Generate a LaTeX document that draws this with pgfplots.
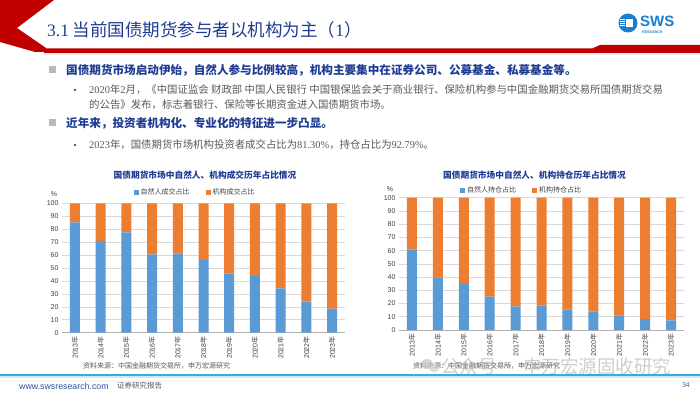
\documentclass[border=0pt]{standalone}
\usepackage{fontspec}
\setmainfont{Noto Sans CJK SC}
\newfontfamily\ser{Liberation Serif}
\newfontfamily\ars{Liberation Sans}
\usepackage{pgfplots}
\pgfplotsset{compat=1.18}
\definecolor{sblue}{HTML}{5B9BD5}
\definecolor{sorange}{HTML}{ED7D31}
\definecolor{tblue}{HTML}{1F3C94}
\definecolor{hred}{HTML}{C00000}
\definecolor{lblue}{HTML}{3DA9E3}
\definecolor{tgray}{HTML}{595959}
\definecolor{logoblue}{HTML}{1A7FD0}
\definecolor{wwwblue}{HTML}{2F5597}
\definecolor{pgblue}{HTML}{4A6A9A}

\pgfplotsset{slidebar/.style={
  scale only axis, ybar stacked, bar width=10pt,
  ymin=0, ymax=100, xmin=-0.5, xmax=10.5,
  ytick={0,10,...,100}, xtick={0,...,10},
  xticklabels={{\ars 2013}年,{\ars 2014}年,{\ars 2015}年,{\ars 2016}年,{\ars 2017}年,{\ars 2018}年,{\ars 2019}年,{\ars 2020}年,{\ars 2021}年,{\ars 2022}年,{\ars 2023}年},
  x tick label style={rotate=90, anchor=east, font=\fontsize{7}{8}\selectfont, text=black!75},
  y tick label style={font=\ars\fontsize{7}{8}\selectfont, text=black!75},
  /pgf/number format/assume math mode=true,
  ymajorgrids, grid style={draw=gray!30, line width=0.6pt},
  axis x line*=bottom, axis y line*=left,
  y axis line style={draw=none},
  x axis line style={-, draw=gray!60, line width=0.6pt},
  major tick length=0pt,
  legend columns=2,
  legend style={draw=none, fill=none, font=\fontsize{7}{8}\selectfont, text=black!75, anchor=center,
    /tikz/every even column/.append style={column sep=14pt}},
  legend image code/.code={\fill[#1] (0pt,-2.5pt) rectangle (5pt,2.5pt);},
}}

\begin{document}
\begin{tikzpicture}[x=1pt,y=1pt]
\useasboundingbox (0,0) rectangle (700,394);
\fill[white] (0,0) rectangle (700,394);

% header
\fill[hred] (0,394) -- (54,394) -- (17,{394-28}) -- (46,{394-48}) -- (46,{394-52}) -- (35,{394-52}) -- (0,{394-42}) -- cycle;
\fill[hred] (44,{394-48.5}) -- (592,{394-48.5}) -- (600,{394-45}) -- (700,{394-45}) -- (700,{394-53}) -- (44,{394-53}) -- cycle;
\fill[gray!15] (44,{394-53}) rectangle (700,{394-55});
\node[anchor=west, inner sep=0] at (47,{394-30}) {\fontsize{17.5}{20}\selectfont\color{tblue}{\ser 3.1} 当前国债期货参与者以机构为主（{\ser 1}）};

% logo
\fill[logoblue] (628,{394-23}) circle (9.5);
\fill[white] (626,{394-27}) rectangle (633,{394-19});
\foreach \yy in {19.5,21.5,23.5,25.5} {\fill[white] (619.5,{394-\yy-0.6}) rectangle (625,{394-\yy+0.6});}
\node[anchor=west, inner sep=0] at (640,{394-21}) {\ars\bfseries\fontsize{15}{15}\selectfont\color{logoblue}SWS};
\node[anchor=west, inner sep=0] at (642,{394-32.5}) {\ars\bfseries\fontsize{3.6}{4}\selectfont\color{logoblue}RESEARCH};

% bullets
\fill[gray!55] (48.5,{394-73.5}) rectangle (55.5,{394-66.5});
\node[anchor=west, inner sep=0] at (66,{394-70}) {\fontsize{11.6}{13}\selectfont\bfseries\color{tblue}国债期货市场启动伊始，自然人参与比例较高，机构主要集中在证券公司、公募基金、私募基金等。};
\fill[tblue!70!black] (75,{394-90}) circle (1.1);
\node[anchor=west, inner sep=0] at (89,{394-90}) {\fontsize{10.4}{12}\selectfont\color{tgray}{\ser 2020}年{\ser 2}月，《中国证监会 财政部 中国人民银行 中国银保监会关于商业银行、保险机构参与中国金融期货交易所国债期货交易};
\node[anchor=west, inner sep=0] at (89,{394-105}) {\fontsize{10.4}{12}\selectfont\color{tgray}的公告》发布，标志着银行、保险等长期资金进入国债期货市场。};
\fill[gray!55] (48.5,{394-126.5}) rectangle (55.5,{394-119.5});
\node[anchor=west, inner sep=0] at (66,{394-123}) {\fontsize{11.6}{13}\selectfont\bfseries\color{tblue}近年来，投资者机构化、专业化的特征进一步凸显。};
\fill[tblue!70!black] (75,{394-145}) circle (1.1);
\node[anchor=west, inner sep=0] at (89,{394-145}) {\fontsize{10.4}{12}\selectfont\color{tgray}{\ser 2023}年，国债期货市场机构投资者成交占比为{\ser 81.30\%}，持仓占比为{\ser 92.79\%}。};

% left chart
\begin{axis}[slidebar, at={(62pt,61.3pt)}, anchor=south west, width=283pt, height=129.4pt,
  legend style={at={(axis description cs:0.47,1.082)}}]
\addplot[fill=sblue, draw=none] coordinates {(0,85.3) (1,70.9) (2,77.6) (3,60.6) (4,61.1) (5,56.2) (6,45.6) (7,43.8) (8,34.3) (9,24.0) (10,18.7)};
\addplot[fill=sorange, draw=none] coordinates {(0,14.7) (1,29.1) (2,22.4) (3,39.4) (4,38.9) (5,43.8) (6,54.4) (7,56.2) (8,65.7) (9,76.0) (10,81.3)};
\legend{自然人成交占比,机构成交占比}
\end{axis}
\node[inner sep=0] at (205,{394-175}) {\fontsize{8.7}{10}\selectfont\bfseries\color{tblue}国债期货市场中自然人、机构成交历年占比情况};
\node[inner sep=0] at (54,{394-194}) {\ars\fontsize{7}{8}\selectfont\color{black!75}\%};
\node[anchor=west, inner sep=0] at (83,{394-366}) {\fontsize{7}{8}\selectfont\color{tgray}资料来源：中国金融期货交易所，申万宏源研究};

% right chart
\begin{axis}[slidebar, at={(399pt,64pt)}, anchor=south west, width=285pt, height=132.3pt,
  legend style={at={(axis description cs:0.43,1.054)}}]
\addplot[fill=sblue, draw=none] coordinates {(0,61.0) (1,39.5) (2,35.5) (3,25.2) (4,17.9) (5,18.4) (6,15.6) (7,14.1) (8,11.1) (9,8.3) (10,7.21)};
\addplot[fill=sorange, draw=none] coordinates {(0,39.0) (1,60.5) (2,64.5) (3,74.8) (4,82.1) (5,81.6) (6,84.4) (7,85.9) (8,88.9) (9,91.7) (10,92.79)};
\legend{自然人持仓占比,机构持仓占比}
\end{axis}
\node[inner sep=0] at (534.5,{394-175}) {\fontsize{8.7}{10}\selectfont\bfseries\color{tblue}国债期货市场中自然人、机构持仓历年占比情况};
\node[inner sep=0] at (390,{394-189}) {\ars\fontsize{7}{8}\selectfont\color{black!75}\%};
\node[anchor=west, inner sep=0] at (413,{394-366}) {\fontsize{7}{8}\selectfont\color{tgray}资料来源：中国金融期货交易所，申万宏源研究};

% watermark
\fill[gray!45, opacity=0.7] (427,{394-364}) ellipse (6 and 5);
\fill[gray!35, opacity=0.7] (434,{394-368}) ellipse (5 and 4.2);
\node[anchor=west, inner sep=0, opacity=0.55] at (441,{394-366}) {\fontsize{18.5}{20}\selectfont\color{gray!70}公众号 · 申万宏源固收研究};

% footer
\fill[lblue] (0,{394-376}) rectangle (700,{394-374});
\fill[lblue!25] (0,{394-377.5}) rectangle (700,{394-376});
\node[anchor=west, inner sep=0] at (19,{394-386}) {\ars\fontsize{8.8}{10}\selectfont\color{wwwblue}www.swsresearch.com};
\node[anchor=west, inner sep=0] at (117,{394-386}) {\fontsize{7.5}{9}\selectfont\color{tgray}证券研究报告};
\node[anchor=east, inner sep=0] at (690,{394-385}) {\ars\fontsize{7}{8}\selectfont\color{pgblue}34};
\end{tikzpicture}
\end{document}
